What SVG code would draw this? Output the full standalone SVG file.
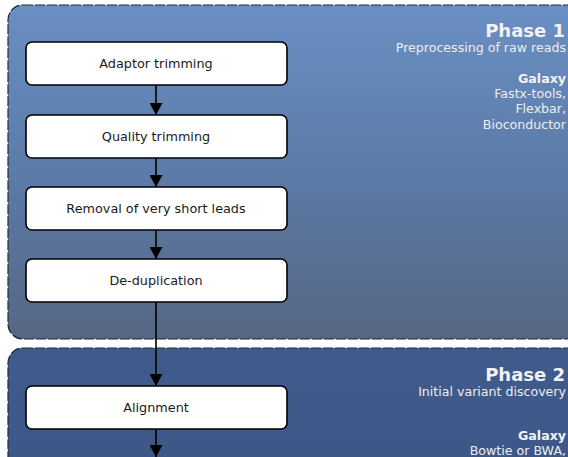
<svg xmlns="http://www.w3.org/2000/svg" width="568" height="457" viewBox="0 0 568 457">
  <defs>
    <linearGradient id="phase1Fill" x1="0" y1="0" x2="0" y2="1">
      <stop offset="0" stop-color="#6a8fc3"/>
      <stop offset="0.5" stop-color="#5c7ba8"/>
      <stop offset="1" stop-color="#566783"/>
    </linearGradient>
    <linearGradient id="phase2Fill" x1="0" y1="0" x2="0" y2="1">
      <stop offset="0" stop-color="#3f5b8c"/>
      <stop offset="1" stop-color="#3d5787"/>
    </linearGradient>
    <marker id="arrow" viewBox="0 0 12 13" refX="12" refY="6.5" markerWidth="12" markerHeight="13" markerUnits="userSpaceOnUse" orient="auto">
      <path d="M0,0 L12,6.5 L0,13 Z" fill="#000"/>
    </marker>
    <style>
      .panel { stroke: #1e2a3a; stroke-width: 1.2; stroke-dasharray: 10 2; }
      .step rect { fill: #ffffff; stroke: #000000; stroke-width: 1.6; }
      .step text { font-family: "DejaVu Sans", Verdana, sans-serif; font-size: 12.8px; fill: #1a1a1a; text-anchor: middle; }
      .title { font-family: "DejaVu Sans", Verdana, sans-serif; font-size: 18px; font-weight: bold; fill: #f2f2f2; text-anchor: end; }
      .note { font-family: "DejaVu Sans", Verdana, sans-serif; font-size: 12.6px; fill: #eeeeee; text-anchor: end; }
      .tool { font-family: "DejaVu Sans", Verdana, sans-serif; font-size: 12.6px; font-weight: bold; fill: #f2f2f2; text-anchor: end; }
      .edge { stroke: #000; stroke-width: 1.6; fill: none; }
    </style>
  </defs>

  <rect width="568" height="457" fill="#ffffff"/>

  <!-- Phase 1 panel -->
  <g id="phase1">
    <rect class="panel" x="8" y="5" width="580" height="334" rx="15" ry="15" fill="url(#phase1Fill)"/>
    <text class="title" x="565" y="37">Phase 1</text>
    <text class="note" x="566" y="52">Preprocessing of raw reads</text>
    <text class="tool" x="566" y="83">Galaxy</text>
    <text class="note" x="566" y="98">Fastx-tools,</text>
    <text class="note" x="566" y="113">Flexbar,</text>
    <text class="note" x="566" y="129">Bioconductor</text>
  </g>

  <!-- Phase 2 panel -->
  <g id="phase2">
    <rect class="panel" x="8" y="348" width="580" height="130" rx="15" ry="15" fill="url(#phase2Fill)"/>
    <text class="title" x="565" y="381">Phase 2</text>
    <text class="note" x="566" y="396">Initial variant discovery</text>
    <text class="tool" x="566" y="440">Galaxy</text>
    <text class="note" x="566" y="455">Bowtie or BWA,</text>
  </g>

  <!-- Connectors -->
  <g id="connectors">
    <line class="edge" x1="156" y1="85" x2="156" y2="115" marker-end="url(#arrow)"/>
    <line class="edge" x1="156" y1="158" x2="156" y2="187" marker-end="url(#arrow)"/>
    <line class="edge" x1="156" y1="230" x2="156" y2="259" marker-end="url(#arrow)"/>
    <line class="edge" x1="156" y1="302" x2="156" y2="386" marker-end="url(#arrow)"/>
    <line class="edge" x1="156" y1="429" x2="156" y2="457" marker-end="url(#arrow)"/>
  </g>

  <!-- Steps -->
  <g id="adaptor-trimming" class="step">
    <rect x="26" y="42" width="261" height="43" rx="6" ry="6"/>
    <text x="156" y="68">Adaptor trimming</text>
  </g>
  <g id="quality-trimming" class="step">
    <rect x="26" y="115" width="261" height="43" rx="6" ry="6"/>
    <text x="156" y="141">Quality trimming</text>
  </g>
  <g id="short-read-removal" class="step">
    <rect x="26" y="187" width="261" height="43" rx="6" ry="6"/>
    <text x="156" y="213">Removal of very short leads</text>
  </g>
  <g id="de-duplication" class="step">
    <rect x="26" y="259" width="261" height="43" rx="6" ry="6"/>
    <text x="156" y="285">De-duplication</text>
  </g>
  <g id="alignment" class="step">
    <rect x="26" y="386" width="261" height="43" rx="6" ry="6"/>
    <text x="156" y="412">Alignment</text>
  </g>
</svg>
